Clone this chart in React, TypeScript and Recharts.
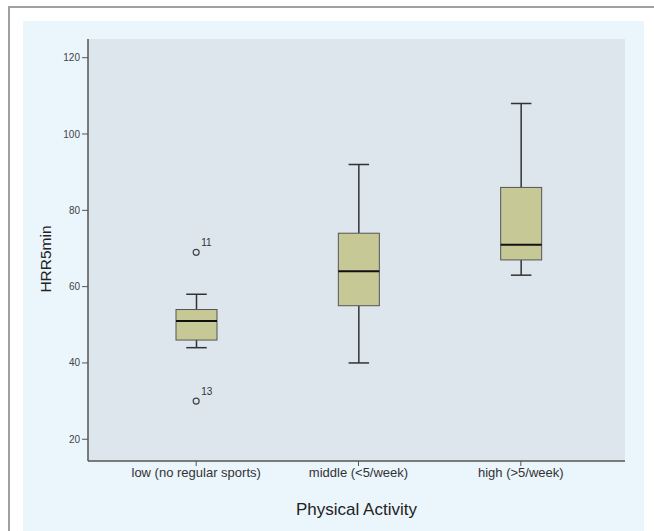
import { ComposedChart, Bar, Scatter, XAxis, YAxis, CartesianGrid } from "recharts";

const groups = ["low (no regular sports)", "middle (<5/week)", "high (>5/week)"];
const whiskerLow = [44, 40, 63];
const q1 = [46, 55, 67];
const median = [51, 64, 71];
const q3 = [54, 74, 86];
const whiskerHigh = [58, 92, 108];
const outlierHigh = [69, null, null];
const outlierHighId = ["11", "", ""];
const outlierLow = [30, null, null];
const outlierLowId = ["13", "", ""];
const yTicks = [20, 40, 60, 80, 100, 120];

const data = groups.map((g, i) => ({
  name: g,
  range: [whiskerLow[i], whiskerHigh[i]],
  lo: whiskerLow[i],
  q1: q1[i],
  med: median[i],
  q3: q3[i],
  hi: whiskerHigh[i],
  outHigh: outlierHigh[i],
  outHighId: outlierHighId[i],
  outLow: outlierLow[i],
  outLowId: outlierLowId[i],
}));

const FONT = "'Liberation Sans', Arial, sans-serif";

const BoxShape = (props: any) => {
  const { x, y, width, height, payload } = props;
  const { lo, hi } = payload;
  const py = (v: number) => y + (height * (hi - v)) / (hi - lo);
  const cx = x + width / 2;
  const cap = width / 4;
  return (
    <g>
      <line x1={cx} x2={cx} y1={py(hi)} y2={py(payload.q3)} stroke="#333" strokeWidth={1.5} />
      <line x1={cx} x2={cx} y1={py(payload.q1)} y2={py(lo)} stroke="#333" strokeWidth={1.5} />
      <line x1={cx - cap} x2={cx + cap} y1={py(hi)} y2={py(hi)} stroke="#333" strokeWidth={1.5} />
      <line x1={cx - cap} x2={cx + cap} y1={py(lo)} y2={py(lo)} stroke="#333" strokeWidth={1.5} />
      <rect
        x={x}
        y={py(payload.q3)}
        width={width}
        height={py(payload.q1) - py(payload.q3)}
        fill="#c6c896"
        stroke="#555"
        strokeWidth={1}
      />
      <line x1={x} x2={x + width} y1={py(payload.med)} y2={py(payload.med)} stroke="#111" strokeWidth={2} />
    </g>
  );
};

const outlierShape = (idKey: string, valKey: string) => (props: any) => {
  const { cx, cy, payload } = props;
  if (payload[valKey] == null || !isFinite(cy)) return <g />;
  return (
    <g>
      <circle cx={cx} cy={cy} r={3} fill="none" stroke="#444" strokeWidth={1.2} />
      <text x={cx + 5} y={cy - 6} fontSize={10} fill="#333" fontFamily={FONT}>
        {payload[idKey]}
      </text>
    </g>
  );
};

const YTitle = (props: any) => {
  const vb = props.viewBox;
  const cx = vb.x - 3;
  const cy = vb.y + vb.height / 2 + 9;
  return (
    <text
      x={cx}
      y={cy}
      transform={`rotate(-90 ${cx} ${cy})`}
      textAnchor="middle"
      dominantBaseline="central"
      fontSize={15.5}
      fill="#222"
      fontFamily={FONT}
    >
      HRR5min
    </text>
  );
};

export default function App() {
  return (
    <div style={{ position: "fixed", left: 0, top: 0, width: 654, height: 531, background: "#fff", overflow: "hidden" }}>
      <style>{"html,body{margin:0;overflow:hidden;background:#fff}"}</style>
      <div
        style={{
          position: "absolute",
          left: 8,
          top: 6,
          width: 646,
          height: 525,
          boxSizing: "border-box",
          borderTop: "2px solid #a0a0a0",
          borderLeft: "2px solid #a0a0a0",
        }}
      />
      <div style={{ position: "absolute", left: 23, top: 21, width: 621, height: 510, background: "#ebf5fc" }} />
      <div style={{ position: "absolute", left: 0, top: 0 }}>
        <ComposedChart width={654} height={531} data={data} margin={{ top: 39, right: 29, bottom: 40, left: 48 }}>
          <CartesianGrid horizontal={false} vertical={false} fill="#dde6ed" stroke="none" />
          <XAxis
            dataKey="name"
            padding={{ left: 27, right: 23 }}
            height={30}
            tickSize={5}
            tick={{ fontSize: 13, fill: "#333", fontFamily: FONT }}
            axisLine={{ stroke: "#555", strokeWidth: 1.5 }}
            tickLine={{ stroke: "#555" }}
            label={{ value: "Physical Activity", position: "insideBottom", offset: -24, fontSize: 17, fill: "#222", fontFamily: FONT }}
          />
          <YAxis
            type="number"
            domain={[14.3, 124.9]}
            ticks={yTicks}
            allowDataOverflow
            width={40}
            tickSize={6}
            tick={{ fontSize: 10, fill: "#444", fontFamily: FONT }}
            axisLine={{ stroke: "#555", strokeWidth: 1.5 }}
            tickLine={{ stroke: "#555" }}
            label={<YTitle />}
          />
          <Bar dataKey="range" barSize={41} shape={BoxShape} isAnimationActive={false} />
          <Scatter dataKey="outHigh" shape={outlierShape("outHighId", "outHigh")} isAnimationActive={false} />
          <Scatter dataKey="outLow" shape={outlierShape("outLowId", "outLow")} isAnimationActive={false} />
        </ComposedChart>
      </div>
    </div>
  );
}
